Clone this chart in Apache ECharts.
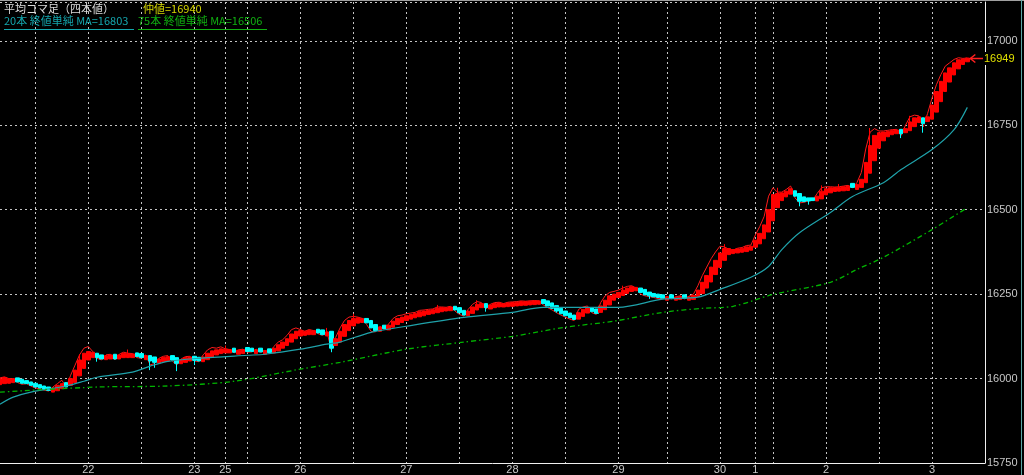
<!DOCTYPE html>
<html><head><meta charset="utf-8">
<script src="https://cdn.jsdelivr.net/npm/echarts@6/dist/echarts.min.js"></script>
<style>html,body{margin:0;padding:0;background:#000;}#c{width:1024px;height:475px;}</style>
</head><body><div id="c"></div>
<script>
// ---- data ----
const barCount = 224;
const dayLabelIndex = [20, 44, 51, 68, 92, 116, 140, 163, 171, 187, 211];
const dayLabelText  = ['22','23','25','26','27','28','29','30','1','2','3'];
const midGridIndex  = [8, 32, 56, 80, 104, 128, 151, 175, 199];

const haOpen = [
15982,15985,15986,15988,16002,15998,15994,15990,15986,15982,
15978,15975,15960,15964,15970,15988,15980,15988,16008,16030,
16055,16062,16075,16070,16056,16058,16072,16058,16062,16062,
16062,16076,16074,16056,16068,16064,16046,16050,16052,16068,
16062,16044,16048,16052,16066,16063,16050,16056,16064,16070,
16074,16076,16076,16090,16072,16074,16092,16090,16074,16090,
16072,16088,16076,16082,16090,16098,16108,16118,16126,16128,
16130,16130,16146,16144,16126,16140,16098,16108,16125,16142,
16156,16164,16166,16178,16172,16160,16140,16158,16144,16152,
16160,16166,16172,16176,16180,16183,16186,16190,16192,16195,
16198,16200,16201,16214,16210,16202,16186,16193,16203,16210,
16222,16206,16210,16212,16212,16213,16214,16215,16216,16217,
16218,16219,16220,16234,16230,16224,16216,16208,16200,16194,
16188,16176,16184,16194,16210,16206,16196,16204,16218,16232,
16240,16246,16252,16258,16260,16268,16264,16256,16252,16250,
16248,16232,16248,16232,16234,16248,16232,16234,16243,16252,
16268,16286,16308,16329,16350,16367,16370,16372,16374,16376,
16380,16389,16399,16414,16434,16467,16506,16527,16538,16546,
16556,16548,16538,16535,16535,16526,16532,16544,16550,16554,
16555,16556,16557,16578,16560,16566,16580,16608,16645,16682,
16704,16716,16722,16725,16738,16728,16734,16746,16758,16772,
16761,16768,16789,16820,16850,16878,16899,16917,16930,16938
];
const haClose = [
16000,16003,16000,16000,15990,15986,15985,15980,15975,15972,
15968,15965,15972,15980,15985,15975,16000,16025,16055,16075,
16080,16078,16062,16058,16068,16070,16058,16070,16075,16074,
16073,16065,16062,16068,16052,16048,16058,16063,16065,16055,
16045,16056,16062,16064,16054,16052,16064,16075,16082,16085,
16088,16087,16086,16078,16084,16086,16080,16080,16085,16079,
16083,16077,16090,16100,16108,16118,16132,16140,16142,16140,
16143,16142,16135,16130,16138,16090,16118,16140,16160,16172,
16178,16180,16178,16165,16150,16142,16153,16148,16158,16170,
16178,16182,16186,16190,16193,16198,16200,16202,16204,16208,
16210,16210,16212,16203,16195,16188,16200,16212,16220,16222,
16210,16218,16222,16224,16222,16224,16225,16226,16228,16228,
16229,16230,16230,16222,16215,16208,16200,16192,16186,16180,
16175,16195,16205,16210,16198,16193,16215,16232,16245,16250,
16255,16262,16268,16272,16270,16255,16248,16245,16242,16240,
16238,16242,16238,16241,16243,16238,16242,16246,16262,16285,
16305,16330,16350,16372,16385,16385,16382,16384,16386,16390,
16392,16410,16430,16455,16500,16545,16548,16550,16555,16562,
16540,16525,16524,16526,16527,16540,16555,16562,16565,16566,
16566,16568,16570,16566,16575,16590,16640,16690,16720,16728,
16730,16732,16735,16736,16725,16740,16760,16772,16775,16755,
16775,16810,16850,16880,16905,16920,16935,16944,16946,16949
];
// extra wick ends: [barIndex, price]
const wickLows  = [[22,16050],[34,16025],[35,16032],[40,16022],[44,16040],[75,16078],[110,16198],[126,16195],[147,16236],[181,16510],[183,16515],[204,16712],[209,16728]];
const wickHighs = [[18,16072],[29,16086],[51,16098],[74,16150],[80,16192],[99,16218],[108,16232],[141,16275],[164,16398],[176,16565],[186,16572],[190,16576],[197,16742],[206,16778]];

// actual close price line (thin red)
const priceLine = [
16002,16005,16000,15998,15988,15983,15985,15978,15972,15970,
15966,15963,15975,15985,15995,15975,16010,16040,16070,16090,
16095,16080,16060,16055,16070,16072,16055,16072,16078,16075,
16074,16062,16060,16070,16040,16045,16060,16066,16068,16052,
16040,16058,16065,16066,16052,16050,16070,16085,16092,16090,
16094,16088,16086,16076,16085,16087,16078,16079,16087,16077,
16084,16075,16095,16108,16115,16128,16145,16150,16145,16140,
16145,16142,16133,16128,16140,16085,16122,16150,16172,16182,
16184,16182,16178,16160,16140,16138,16154,16146,16162,16178,
16186,16188,16192,16194,16196,16202,16203,16205,16206,16212,
16212,16211,16214,16200,16190,16185,16205,16220,16228,16225,
16206,16220,16225,16226,16222,16226,16227,16228,16230,16229,
16230,16231,16230,16218,16210,16203,16195,16188,16182,16176,
16172,16205,16212,16215,16195,16190,16225,16245,16255,16258,
16262,16268,16273,16275,16268,16250,16245,16243,16240,16237,
16236,16243,16236,16242,16245,16236,16244,16250,16275,16305,
16330,16355,16375,16392,16390,16383,16380,16386,16388,16394,
16395,16425,16450,16480,16540,16565,16552,16552,16560,16570,
16535,16520,16522,16526,16528,16548,16565,16568,16568,16567,
16568,16570,16572,16565,16580,16610,16680,16730,16740,16733,
16733,16735,16737,16738,16720,16750,16775,16780,16778,16745,
16785,16830,16870,16900,16925,16935,16945,16950,16948,16949
];

// moving averages read at sample bars: [barIndex, value]
const ma20Points = [[0,15924],[3,15945],[7,15960],[15,15978],[19,15992],[22,16004],[30,16019],[34,16037],[38,16051],[45,16060],[56,16069],[60,16072],[68,16087],[74,16102],[77,16108],[84,16137],[92,16155],[105,16181],[116,16196],[123,16211],[132,16211],[140,16211],[150,16235],[158,16241],[163,16264],[170,16300],[174,16332],[177,16382],[181,16432],[188,16492],[193,16539],[200,16580],[204,16619],[211,16678],[216,16737],[219,16803]];
const ma75Points = [[0,15960],[22,15975],[38,15978],[53,15992],[68,16028],[77,16048],[92,16087],[105,16108],[116,16125],[128,16152],[139,16170],[150,16196],[159,16208],[166,16214],[175,16249],[188,16285],[194,16323],[200,16359],[211,16441],[219,16506]];

const midValue = 16940;
const yMin = 15750, yMax = 17115, yStep = 250;

// ---- build ----
const categories = [];
for (let i = 0; i < barCount; i++) categories.push('');
dayLabelIndex.forEach((ix, k) => { categories[ix] = dayLabelText[k]; });
const labelSet = new Set(dayLabelIndex);
const gridSet = new Set(dayLabelIndex.concat(midGridIndex));

const lowMap = new Map(wickLows), highMap = new Map(wickHighs);
const candleData = haOpen.map((o, i) => {
  const c = haClose[i];
  let lo = Math.min(o, c), hi = Math.max(o, c);
  if (lowMap.has(i)) lo = Math.min(lo, lowMap.get(i));
  if (highMap.has(i)) hi = Math.max(hi, highMap.get(i));
  return [o, c, lo, hi];
});

const lastIdx = haClose.length - 1;
const lastClose = haClose[lastIdx];
const ma20Last = ma20Points[ma20Points.length - 1][1];
const ma75Last = ma75Points[ma75Points.length - 1][1];

const axisFont = '"Liberation Sans Narrow", "Arial Narrow", sans-serif';
const jpFont = '11px "Noto Sans CJK JP", sans-serif';

const chart = echarts.init(document.getElementById('c'), null, {renderer: 'canvas'});
const baseGraphics = [
  {id: 'topLine', type: 'line', shape: {x1: 0, y1: 0.5, x2: 1024, y2: 0.5}, style: {stroke: '#a0a0a0', lineWidth: 1}, z: 10},
  {id: 'edgeLine', type: 'line', shape: {x1: 1021.5, y1: 0, x2: 1021.5, y2: 475}, style: {stroke: '#5aa6a6', lineWidth: 1}, z: 10},
  {id: 't1', type: 'text', left: 4, top: 3, z: 10, style: {text: '平均コマ足（四本値）', fill: '#dcdcdc', font: jpFont}},
  {id: 't2', type: 'text', left: 143, top: 3, z: 10, style: {text: '仲値=' + midValue, fill: '#d4d400', font: jpFont}},
  {id: 't3', type: 'text', left: 4, top: 15, z: 10, style: {text: '20本 終値単純 MA=' + ma20Last, fill: '#14a6ae', font: jpFont}},
  {id: 'u3', type: 'line', z: 10, shape: {x1: 4, y1: 29.5, x2: 134, y2: 29.5}, style: {stroke: '#14a6ae', lineWidth: 1}},
  {id: 't4', type: 'text', left: 138, top: 15, z: 10, style: {text: '75本 終値単純 MA=' + ma75Last, fill: '#10b010', font: jpFont}},
  {id: 'u4', type: 'line', z: 10, shape: {x1: 138, y1: 29.5, x2: 267, y2: 29.5}, style: {stroke: '#10b010', lineWidth: 1}}
];
chart.setOption({
  backgroundColor: '#000',
  animation: false,
  grid: {left: 0, right: 39, top: 2, bottom: 11, containLabel: false},
  xAxis: {
    type: 'category', data: categories, boundaryGap: false,
    axisLine: {show: true, lineStyle: {color: '#f0f0f0', width: 1}},
    axisTick: {show: false},
    axisLabel: {interval: (i) => labelSet.has(i), color: '#c8c8c8', fontFamily: axisFont, fontSize: 11, margin: 1},
    splitLine: {show: true, interval: (i) => gridSet.has(i), lineStyle: {color: '#c4c4c4', type: [2, 3], width: 1}}
  },
  yAxis: {
    type: 'value', position: 'right', min: yMin, max: yMax, interval: yStep, scale: true,
    axisLine: {show: true, lineStyle: {color: '#f0f0f0', width: 1}},
    axisTick: {show: false},
    axisLabel: {color: '#c8c8c8', fontFamily: axisFont, fontSize: 11, margin: 2,
      verticalAlign: 'middle', padding: [0, 0, 7, 0],
      formatter: (v) => (v % yStep === 0 ? String(v) : '')},
    splitLine: {show: true, lineStyle: {color: '#c4c4c4', type: [2, 3], width: 1}}
  },
  series: [
    {type: 'line', name: 'price', data: priceLine, symbol: 'none', z: 2,
     lineStyle: {color: '#ff1a1a', width: 1}},
    {type: 'candlestick', name: 'HA', data: candleData, z: 3, barWidth: '90%',
     itemStyle: {color: '#ff0000', color0: '#00ffff', borderColor: '#ff0000', borderColor0: '#00ffff', borderWidth: 1}},
    {type: 'line', name: 'MA20', data: ma20Points, symbol: 'none', z: 4, smooth: 0.3,
     lineStyle: {color: '#1fa2aa', width: 1.2}},
    {type: 'line', name: 'MA75', data: ma75Points, symbol: 'none', z: 4, smooth: 0.3,
     lineStyle: {color: '#00b400', width: 1.3, type: [5, 3, 1.5, 3]}}
  ],
  graphic: baseGraphics
});

// arrow + last price label positioned through the chart's own scales
const p = chart.convertToPixel({xAxisIndex: 0, yAxisIndex: 0}, [lastIdx, lastClose]);
const axisX = chart.convertToPixel({xAxisIndex: 0}, barCount - 1);
const tipX = p[0] + 3, py = Math.round(p[1]) + 0.5;
chart.setOption({
  graphic: baseGraphics.concat([
    {id: 'arrowShaft', type: 'line', z: 20, shape: {x1: tipX, y1: py, x2: axisX - 2, y2: py}, style: {stroke: '#ff2020', lineWidth: 1.5}},
    {id: 'arrowHead', type: 'polyline', z: 20, shape: {points: [[tipX + 5, py - 4], [tipX, py], [tipX + 5, py + 4]]}, style: {stroke: '#ff2020', lineWidth: 1.5, fill: null}},
    {id: 'lastLabel', type: 'text', z: 20, x: axisX - 2, y: py, style: {text: String(lastClose), fill: '#e0e000', backgroundColor: '#000', font: '11px ' + axisFont, verticalAlign: 'middle', align: 'left', padding: [1, 1, 1, 1]}}
  ])
});
</script></body></html>
